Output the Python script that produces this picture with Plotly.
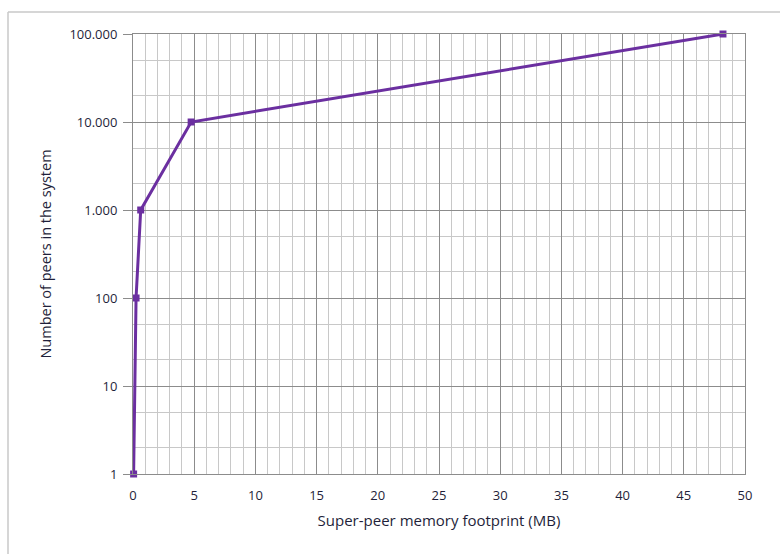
import plotly.graph_objects as go

# Memory footprint of a super-peer (MB) vs. number of peers in the system
footprint_mb = [0.05, 0.25, 0.63, 4.75, 48.2]
peers = [1, 100, 1000, 10000, 100000]

y_tick_vals = [1, 10, 100, 1000, 10000, 100000]
y_tick_text = ["1", "10", "100", "1.000", "10.000", "100.000"]
x_tick_vals = [0, 5, 10, 15, 20, 25, 30, 35, 40, 45, 50]

LINE_COLOR = "#6b2fa0"
FONT = "Open Sans, Liberation Sans, sans-serif"

fig = go.Figure()
fig.add_trace(go.Scatter(
    x=footprint_mb, y=peers, mode="lines+markers",
    line=dict(color=LINE_COLOR, width=3),
    marker=dict(symbol="square", size=7, color=LINE_COLOR),
    showlegend=False, cliponaxis=False,
))

fig.update_layout(
    width=780, height=554,
    margin=dict(l=133, r=35, t=34, b=80),
    paper_bgcolor="white", plot_bgcolor="white",
    font=dict(family=FONT, size=13, color="#1f1f3a"),
    xaxis=dict(
        range=[0, 50], tickvals=x_tick_vals, ticks="",
        showgrid=True, gridcolor="#8c8c8c", gridwidth=1,
        minor=dict(dtick=1, showgrid=True, gridcolor="#c8c8c8", gridwidth=1),
        showline=True, linecolor="#8c8c8c", mirror=True, zeroline=False,
        title=dict(text="Super-peer memory footprint (MB)", font=dict(size=15), standoff=12),
        ticklabelstandoff=9,
    ),
    yaxis=dict(
        type="log", range=[0, 5], tickvals=y_tick_vals, ticktext=y_tick_text,
        ticks="outside", ticklen=9, tickcolor="#8c8c8c",
        showgrid=True, gridcolor="#8c8c8c", gridwidth=1,
        minor=dict(showgrid=True, gridcolor="#c8c8c8", gridwidth=1, ticks=""),
        showline=True, linecolor="#8c8c8c", mirror=True, zeroline=False,
        title=dict(text="Number of peers in the system", font=dict(size=14.5), standoff=14),
        ticklabelstandoff=3,
    ),
    shapes=[
        dict(type="line", xref="paper", yref="paper",
             x0=(8 - 133) / 612, x1=(780 - 133) / 612,
             y0=(474 - 12) / 440, y1=(474 - 12) / 440,
             line=dict(color="#c8c8c8", width=1.5)),
        dict(type="line", xref="paper", yref="paper",
             x0=(8 - 133) / 612, x1=(8 - 133) / 612,
             y0=(474 - 12) / 440, y1=(474 - 554) / 440,
             line=dict(color="#c8c8c8", width=1.5)),
    ],
)

fig.write_html("out.html")
